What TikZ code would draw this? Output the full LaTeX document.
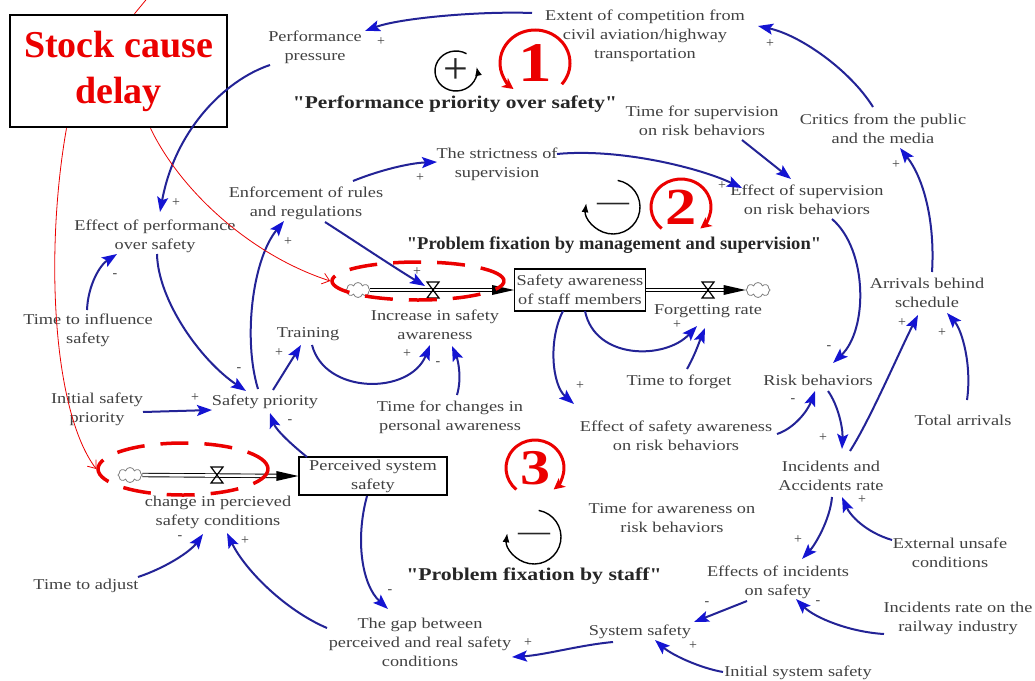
\documentclass[tikz,border=0pt]{standalone}
\usepackage{fontspec}
\usepackage{graphicx}
\setmainfont{Liberation Serif}
\newfontfamily\lblfont{Liberation Serif}[FakeStretch=1.22]
\newfontfamily\ttlfont{Liberation Serif}
\usetikzlibrary{arrows.meta,shapes.symbols,shapes.geometric}
\definecolor{lnk}{RGB}{35,35,150}
\definecolor{tipc}{RGB}{20,20,210}
\definecolor{txtc}{RGB}{65,65,65}
\definecolor{redc}{RGB}{235,0,0}
\begin{document}
\begin{tikzpicture}[x=1pt, y=-1pt,
  lab/.style={font=\lblfont\fontsize{15}{19}\selectfont, text=txtc, align=center, inner sep=1pt},
  pol/.style={font=\fontsize{14}{14}\selectfont, text=txtc, inner sep=0pt},
  link/.style={draw=lnk, line width=2pt, -{Stealth[length=15pt,width=11pt,inset=3pt,color=tipc]}},
  stockbox/.style={lab, draw=black, line width=1.3pt, inner sep=2pt},
  pipe/.style={draw=black, double=white, double distance=2.6pt, line width=0.9pt},
  pipetip/.style={fill=black},
  valvestyle/.style={draw=black, line width=1.2pt},
  cloudstyle/.style={cloud, cloud puffs=8, draw=gray, line width=0.8pt, minimum width=24pt, minimum height=15pt, inner sep=0pt, fill=white},
  title/.style={font=\ttlfont\fontsize{18}{18}\selectfont\bfseries, text=black!85, inner sep=0pt},
  redring/.style={draw=redc, line width=3pt, -{Stealth[length=11pt,width=11pt,inset=3pt]}},
  rednum/.style={font=\fontsize{56}{56}\selectfont\bfseries, text=redc, inner sep=0pt},
  redoval/.style={ellipse, draw=redc, line width=3.5pt, dash pattern=on 28pt off 16pt, inner sep=0pt},
  redlink/.style={draw=redc, line width=0.8pt, -{Straight Barb[length=7pt,width=11pt]}},
  redline/.style={draw=redc, line width=0.8pt},
  loopsym/.style={draw=black, line width=1.4pt, -{Latex[length=9pt,width=7pt]}},
  loopmark/.style={inner sep=0pt, text=black!85},
]
\fill[white] (0,0) rectangle (1035,680);
\useasboundingbox (0,0) rectangle (1035,680);

% ---------- annotation box (under the links) ----------
\node[draw=black, line width=2.5pt, minimum width=217pt, minimum height=112pt,
      font=\fontsize{38}{46}\selectfont\bfseries, text=redc, align=center, inner sep=0pt] (stock) at (118.5,71) {Stock cause\\delay};

% ---------- variables ----------
\node[lab] (pp) at (315,47) {Performance\\pressure};
\node[lab] (ext) at (645,36) {Extent of competition from\\civil aviation/highway\\transportation};
\node[lab] (tsup) at (702,121) {Time for supervision\\on risk behaviors};
\node[lab] (crit) at (883,129) {Critics from the public\\and the media};
\node[lab] (strict) at (497,164) {The strictness of\\supervision};
\node[lab] (esup) at (807,200) {Effect of supervision\\on risk behaviors};
\node[lab] (enf) at (306,203) {Enforcement of rules\\and regulations};
\node[lab] (eperf) at (155,236) {Effect of performance\\over safety};
\node[lab] (arr) at (927,293) {Arrivals behind\\schedule};
\node[lab] (tinf) at (88,330) {Time to influence\\safety};
\node[lab] (train) at (308,334) {Training};
\node[lab] (inc) at (435,325) {Increase in safety\\awareness};
\node[stockbox, minimum width=130pt, minimum height=42pt] (saw) at (580,290) {Safety awareness\\of staff members};
\node[lab] (forg) at (708,311) {Forgetting rate};
\node[lab] (tforg) at (679,382) {Time to forget};
\node[lab] (risk) at (818,380) {Risk behaviors};
\node[lab] (isp) at (97,409) {Initial safety\\priority};
\node[lab] (sp) at (265,402) {Safety priority};
\node[lab] (tch) at (450,417) {Time for changes in\\personal awareness};
\node[lab] (tot) at (963,420) {Total arrivals};
\node[lab] (esaw) at (676,436) {Effect of safety awareness\\on risk behaviors};
\node[stockbox, minimum width=148pt, minimum height=38pt] (per) at (373,476) {Perceived system\\safety};
\node[lab] (incid) at (831,476) {Incidents and\\Accidents rate};
\node[lab] (chg) at (218,512) {change in percieved\\safety conditions};
\node[lab] (tawr) at (672,518) {Time for awareness on\\risk behaviors};
\node[lab] (extu) at (950,553) {External unsafe\\conditions};
\node[lab] (eff) at (778,582) {Effects of incidents\\on safety};
\node[lab] (tadj) at (86,586) {Time to adjust};
\node[lab] (irr) at (958,618) {Incidents rate on the\\railway industry};
\node[lab] (gap) at (420,642) {The gap between\\perceived and real safety\\conditions};
\node[lab] (sys) at (640,632) {System safety};
\node[lab] (isys) at (798,673) {Initial system safety};

% ---------- flows ----------
\node[cloudstyle] (cloud1) at (358,290) {};
\node[cloudstyle] (cloud2) at (758,290) {};
\node[cloudstyle] (cloud3) at (130,475) {};
\coordinate (v1) at (433,290);
\coordinate (v2) at (708,290);
\coordinate (v3) at (217,475);
\draw[pipe] (cloud1.east) -- ([xshift=-14pt]saw.west);
\fill[pipetip] (saw.west) -- ++(-22,-5) -- ++(0,10) -- cycle;
\draw[pipe] (saw.east) -- ([xshift=-14pt]cloud2.west);
\fill[pipetip] (cloud2.west) -- ++(-22,-5) -- ++(0,10) -- cycle;
\draw[pipe] (cloud3.east) -- ([xshift=-14pt]per.west);
\fill[pipetip] (per.west) -- ++(-22,-5) -- ++(0,10) -- cycle;
\foreach \v in {v1,v2,v3}{
  \draw[valvestyle] ([shift={(-6,-8)}]\v) -- ([shift={(6,-8)}]\v) -- ([shift={(-6,8)}]\v) -- ([shift={(6,8)}]\v) -- cycle;
}

% ---------- causal links ----------
\draw[link] ([shift={(-113,-23)}]ext.center) .. controls (480,11) and (400,18) .. ([shift={(50,-16)}]pp.center);
\draw[link] ([shift={(-10,-22)}]crit.center) .. controls (850,70) and (800,35) .. ([shift={(113,-10)}]ext.center);
\draw[link] ([shift={(5,-21)}]arr.center) .. controls (935,225) and (925,180) .. ([shift={(17,19)}]crit.center);
\draw[link] ([shift={(-45,18)}]pp.center) .. controls (225,80) and (175,130) .. ([shift={(5,-24)}]eperf.center);
\draw[link] ([shift={(2,18)}]eperf.center) .. controls (158,300) and (200,360) .. ([shift={(-19,-11)}]sp.center);
\draw[link] ([shift={(-1,-20)}]tinf.center) .. controls (88,285) and (100,265) .. ([shift={(-38,18)}]eperf.center);
\draw[link] ([shift={(46,3)}]isp.center) -- ([shift={(-53,8)}]sp.center);
\draw[link] ([shift={(-7,-13)}]sp.center) .. controls (243,340) and (252,260) .. ([shift={(-22,18)}]enf.center);
\draw[link] ([shift={(8,-12)}]sp.center) -- ([shift={(-7,11)}]train.center);
\draw[link] ([shift={(4,11)}]train.center) .. controls (325,395) and (410,395) .. ([shift={(-5,20)}]inc.center);
\draw[link] ([shift={(7,-22)}]tch.center) .. controls (462,378) and (458,360) .. ([shift={(17,21)}]inc.center);
\draw[link] ([shift={(19,19)}]enf.center) .. controls (350,238) and (395,268) .. ([shift={(-8,-4)}]v1);
\draw[link] ([shift={(47,-22)}]enf.center) .. controls (380,170) and (410,163) .. ([shift={(-60,-2)}]strict.center);
\draw[link] ([shift={(60,-10)}]strict.center) .. controls (620,148) and (700,168) .. ([shift={(-65,-12)}]esup.center);
\draw[link] ([shift={(40,19)}]tsup.center) -- ([shift={(-16,-21)}]esup.center);
\draw[link] ([shift={(25,19)}]esup.center) .. controls (868,250) and (868,330) .. ([shift={(15,-17)}]risk.center);
\draw[link] ([shift={(5,21)}]saw.center) .. controls (595,360) and (665,360) .. ([shift={(-11,15)}]forg.center);
\draw[link] ([shift={(8,-13)}]tforg.center) .. controls (695,355) and (700,340) .. ([shift={(-3,17)}]forg.center);
\draw[link] ([shift={(-17,21)}]saw.center) .. controls (548,340) and (552,385) .. ([shift={(-102,-32)}]esaw.center);
\draw[link] ([shift={(101,-2)}]esaw.center) .. controls (795,428) and (808,410) .. ([shift={(-3,11)}]risk.center);
\draw[link] ([shift={(10,11)}]risk.center) .. controls (838,405) and (843,428) .. ([shift={(11,-27)}]incid.center);
\draw[link] ([shift={(19,-25)}]incid.center) .. controls (870,420) and (900,350) .. ([shift={(-9,22)}]arr.center);
\draw[link] ([shift={(4,-20)}]tot.center) .. controls (972,365) and (962,330) .. ([shift={(20,20)}]arr.center);
\draw[link] ([shift={(1,21)}]incid.center) .. controls (830,520) and (815,545) .. ([shift={(24,-23)}]eff.center);
\draw[link] ([shift={(-58,-13)}]extu.center) .. controls (865,532) and (850,515) .. ([shift={(11,21)}]incid.center);
\draw[link] ([shift={(-74,16)}]irr.center) .. controls (850,632) and (815,618) .. ([shift={(18,17)}]eff.center);
\draw[link] ([shift={(-31,19)}]eff.center) -- ([shift={(54,-10)}]sys.center);
\draw[link] ([shift={(-75,-1)}]isys.center) .. controls (700,668) and (672,655) .. ([shift={(15,8)}]sys.center);
\draw[link] ([shift={(-27,10)}]sys.center) .. controls (580,645) and (545,655) .. ([shift={(92,15)}]gap.center);
\draw[link] ([shift={(-6,20)}]per.center) .. controls (355,540) and (362,585) .. ([shift={(-32,-33)}]gap.center);
\draw[link] ([shift={(-93,-14)}]gap.center) .. controls (285,610) and (245,570) .. ([shift={(9,21)}]chg.center);
\draw[link] ([shift={(52,-9)}]tadj.center) .. controls (165,568) and (190,552) .. ([shift={(-15,22)}]chg.center);
\draw[link] ([shift={(-66,-19)}]per.center) .. controls (292,445) and (276,430) .. ([shift={(5,11)}]sp.center);

% ---------- polarities ----------
\node[pol] (s1) at (381,42) {+};
\node[pol] (s2) at (770,44) {+};
\node[pol] (s3) at (896,165) {+};
\node[pol] (s4) at (176,203) {+};
\node[pol] (s5) at (239,370) {-};
\node[pol] (s6) at (115,276) {-};
\node[pol] (s7) at (195,398) {+};
\node[pol] (s8) at (288,242) {+};
\node[pol] (s9) at (279,353) {+};
\node[pol] (s10) at (407,354) {+};
\node[pol] (s11) at (438,364) {-};
\node[pol] (s12) at (417,272) {+};
\node[pol] (s13) at (420,178) {+};
\node[pol] (s14) at (722,186) {+};
\node[pol] (s16) at (829,348) {-};
\node[pol] (s17) at (677,325) {+};
\node[pol] (s19) at (580,386) {+};
\node[pol] (s20) at (793,401) {-};
\node[pol] (s21) at (823,438) {+};
\node[pol] (s22) at (902,323) {+};
\node[pol] (s23) at (942,333) {+};
\node[pol] (s24) at (798,540) {+};
\node[pol] (s25) at (862,500) {+};
\node[pol] (s26) at (818,603) {-};
\node[pol] (s27) at (707,604) {-};
\node[pol] (s28) at (693,646) {+};
\node[pol] (s29) at (528,643) {+};
\node[pol] (s30) at (390,592) {-};
\node[pol] (s31) at (245,541) {+};
\node[pol] (s32) at (180,538) {-};
\node[pol] (s33) at (290,422) {-};

% ---------- loop markers ----------
\coordinate (l1) at (456,71);
\draw[loopsym] ([shift={(-60:21 and 20)}]l1) arc[start angle=-60, end angle=-372, x radius=21, y radius=20];
\node[loopmark, font=\fontsize{44}{44}\selectfont] (plus1) at (l1) {+};
\coordinate (l2) at (613,207);
\draw[loopsym] ([shift={(-80:27)}]l2) arc[start angle=-80, end angle=188, radius=27];
\node[loopmark, font=\fontsize{32}{32}\selectfont] (dash2) at (l2) {—};
\coordinate (l3) at (534,537);
\draw[loopsym] ([shift={(-80:27)}]l3) arc[start angle=-80, end angle=188, radius=27];
\node[loopmark, font=\fontsize{32}{32}\selectfont] (dash3) at (l3) {—};

\node[title] (t1) at (455,104) {\scalebox{1.19}[1]{"Performance priority over safety"}};
\node[title] (t2) at (614,245) {\scalebox{1.03}[1]{"Problem fixation by management and supervision"}};
\node[title] (t3) at (534,576) {\scalebox{1.21}[1]{"Problem fixation by staff"}};

% ---------- red annotations ----------
\node[redoval, minimum width=172pt, minimum height=38pt] (e1) at (418,281) {};
\node[redoval, minimum width=170pt, minimum height=52pt] (e2) at (183,469) {};

\node[rednum] (n1) at (535,63) {\scalebox{1.2}[1]{1}};
\draw[redring] ([shift={(40:35 and 33)}]n1.center) arc[start angle=40, end angle=-232, x radius=35, y radius=33];
\node[rednum, font=\fontsize{52}{52}\selectfont\bfseries] (n2) at (681,207) {\scalebox{1.2}[1]{2}};
\draw[redring] ([shift={(130:30 and 28)}]n2.center) arc[start angle=130, end angle=410, x radius=30, y radius=28];
\node[rednum, font=\fontsize{50}{50}\selectfont\bfseries] (n3) at (535,468) {\scalebox{1.2}[1]{3}};
\draw[redring] ([shift={(130:29 and 28)}]n3.center) arc[start angle=130, end angle=410, x radius=29, y radius=28];

\coordinate (offtop) at (150,-5);
\draw[redline] ([shift={(16,0)}]stock.north) -- (offtop);
\draw[redlink] ([shift={(32,0)}]stock.south) .. controls (180,190) and (250,255) .. (e1.west);
\draw[redlink] ([shift={(-52,0)}]stock.south) .. controls (45,250) and (52,410) .. (e2.west);
\end{tikzpicture}
\end{document}
